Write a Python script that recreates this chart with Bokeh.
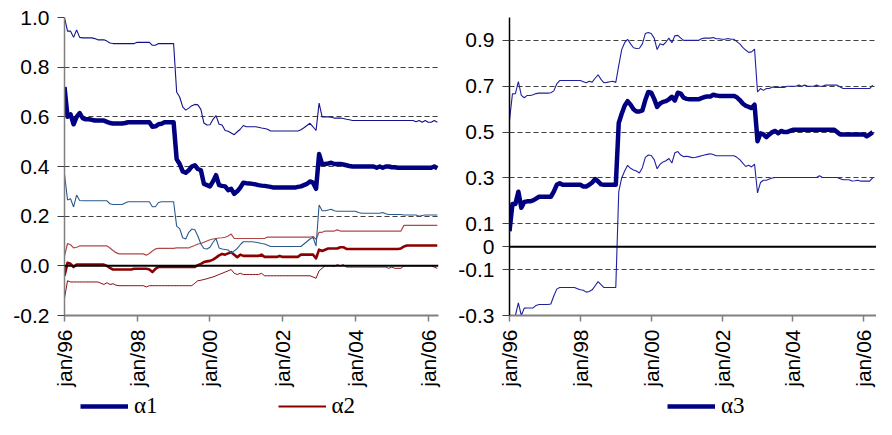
import math
from bokeh.plotting import figure
from bokeh.layouts import row, column
from bokeh.models import Span, Legend, LegendItem, FixedTicker, Range1d
from bokeh.embed import file_html
from bokeh.resources import INLINE

# ---------------- data (monthly, jan/96 .. apr/06) ----------------
alpha1 = [0.72, 0.60, 0.61, 0.57, 0.60, 0.615, 0.595, 0.59, 0.59, 0.588,
          0.585, 0.585, 0.585, 0.585, 0.58, 0.575, 0.573, 0.573, 0.573, 0.573,
          0.575, 0.578, 0.578, 0.578, 0.578, 0.578, 0.578, 0.578, 0.578, 0.56,
          0.562, 0.57, 0.572, 0.578, 0.578, 0.578, 0.578, 0.43, 0.41, 0.38,
          0.375, 0.385, 0.40, 0.405, 0.39, 0.385, 0.33, 0.325, 0.32, 0.34,
          0.365, 0.325, 0.322, 0.32, 0.305, 0.31, 0.29, 0.30, 0.315, 0.335,
          0.333, 0.332, 0.33, 0.328, 0.325, 0.323, 0.322, 0.32, 0.318, 0.315,
          0.315, 0.315, 0.315, 0.315, 0.315, 0.315, 0.315, 0.318, 0.32, 0.325,
          0.33, 0.34, 0.335, 0.31, 0.45, 0.41, 0.41, 0.412, 0.415, 0.41,
          0.41, 0.41, 0.408, 0.405, 0.402, 0.40, 0.40, 0.40, 0.40, 0.40,
          0.40, 0.40, 0.40, 0.395, 0.40, 0.395, 0.40, 0.40, 0.397, 0.397,
          0.395, 0.395, 0.395, 0.395, 0.395, 0.395, 0.395, 0.395, 0.395, 0.395,
          0.395, 0.395, 0.40, 0.393]
alpha1_upper = [1.00, 0.945, 0.945, 0.92, 0.95, 0.92, 0.918, 0.918, 0.918, 0.918,
                0.915, 0.91, 0.91, 0.91, 0.905, 0.897, 0.895, 0.895, 0.895, 0.895,
                0.895, 0.895, 0.895, 0.895, 0.90, 0.90, 0.90, 0.90, 0.90, 0.888,
                0.888, 0.895, 0.895, 0.895, 0.895, 0.895, 0.895, 0.70, 0.68, 0.64,
                0.627, 0.635, 0.645, 0.65, 0.648, 0.63, 0.575, 0.567, 0.568, 0.59,
                0.605, 0.57, 0.567, 0.545, 0.542, 0.535, 0.528, 0.54, 0.55, 0.565,
                0.56, 0.56, 0.56, 0.56, 0.558, 0.555, 0.553, 0.55, 0.543, 0.543,
                0.543, 0.543, 0.543, 0.543, 0.543, 0.543, 0.543, 0.543, 0.548, 0.556,
                0.565, 0.574, 0.56, 0.545, 0.655, 0.60, 0.60, 0.60, 0.598, 0.595,
                0.595, 0.595, 0.593, 0.59, 0.588, 0.585, 0.585, 0.585, 0.585, 0.585,
                0.585, 0.585, 0.585, 0.585, 0.585, 0.585, 0.585, 0.585, 0.585, 0.585,
                0.585, 0.585, 0.585, 0.585, 0.585, 0.585, 0.58, 0.585, 0.578, 0.585,
                0.578, 0.578, 0.585, 0.578]
alpha1_lower = [0.37, 0.265, 0.27, 0.237, 0.285, 0.263, 0.262, 0.262, 0.262, 0.262,
                0.262, 0.262, 0.262, 0.262, 0.262, 0.25, 0.247, 0.247, 0.247, 0.247,
                0.253, 0.258, 0.258, 0.258, 0.258, 0.258, 0.258, 0.258, 0.258, 0.238,
                0.238, 0.255, 0.258, 0.258, 0.258, 0.258, 0.258, 0.16, 0.15, 0.113,
                0.108, 0.135, 0.148, 0.145, 0.12, 0.088, 0.07, 0.068, 0.075, 0.095,
                0.11, 0.072, 0.068, 0.066, 0.064, 0.05, 0.06, 0.07, 0.085, 0.097,
                0.097, 0.097, 0.097, 0.095, 0.093, 0.09, 0.088, 0.083, 0.078, 0.078,
                0.078, 0.078, 0.078, 0.078, 0.078, 0.078, 0.078, 0.078, 0.078, 0.088,
                0.098, 0.108, 0.115, 0.08, 0.245, 0.222, 0.222, 0.225, 0.228, 0.222,
                0.22, 0.22, 0.22, 0.22, 0.22, 0.22, 0.22, 0.215, 0.212, 0.212,
                0.212, 0.212, 0.212, 0.212, 0.212, 0.215, 0.21, 0.207, 0.207, 0.207,
                0.207, 0.207, 0.205, 0.205, 0.205, 0.205, 0.205, 0.20, 0.203, 0.205,
                0.205, 0.205, 0.205, 0.205]
alpha2 = [-0.04, 0.012, 0.008, -0.005, 0.005, 0.005, 0.005, 0.005, 0.005, 0.005,
          0.005, 0.005, 0.005, 0.005, 0.0, -0.008, -0.015, -0.015, -0.015, -0.015,
          -0.015, -0.015, -0.015, -0.012, -0.012, -0.012, -0.012, -0.012, -0.015, -0.025,
          -0.012, -0.004, -0.004, -0.004, -0.004, -0.004, -0.004, -0.004, -0.004, -0.004,
          -0.004, -0.004, -0.004, -0.004, 0.003, 0.008, 0.015, 0.018, 0.02, 0.025,
          0.033, 0.042, 0.048, 0.045, 0.05, 0.055, 0.045, 0.035, 0.045, 0.04,
          0.04, 0.04, 0.04, 0.04, 0.04, 0.045, 0.036, 0.036, 0.036, 0.036,
          0.036, 0.04, 0.036, 0.036, 0.036, 0.036, 0.036, 0.036, 0.045, 0.045,
          0.045, 0.045, 0.045, 0.03, 0.065, 0.06, 0.065, 0.07, 0.07, 0.07,
          0.07, 0.075, 0.075, 0.068, 0.068, 0.068, 0.068, 0.068, 0.068, 0.068,
          0.068, 0.068, 0.068, 0.068, 0.068, 0.068, 0.068, 0.068, 0.068, 0.068,
          0.068, 0.07, 0.078, 0.082, 0.082, 0.082, 0.082, 0.082, 0.082, 0.082,
          0.082, 0.082, 0.082, 0.082]
alpha2_upper = [0.04, 0.09, 0.085, 0.072, 0.075, 0.08, 0.08, 0.08, 0.08, 0.08,
                0.08, 0.08, 0.08, 0.08, 0.08, 0.072, 0.062, 0.053, 0.048, 0.048,
                0.048, 0.048, 0.048, 0.048, 0.048, 0.048, 0.048, 0.043, 0.05, 0.06,
                0.068, 0.07, 0.07, 0.07, 0.07, 0.07, 0.07, 0.072, 0.072, 0.072,
                0.072, 0.072, 0.078, 0.082, 0.088, 0.09, 0.095, 0.10, 0.105, 0.108,
                0.11, 0.112, 0.113, 0.115, 0.12, 0.128, 0.11, 0.11, 0.11, 0.11,
                0.11, 0.11, 0.11, 0.11, 0.11, 0.11, 0.11, 0.116, 0.116, 0.116,
                0.116, 0.116, 0.116, 0.116, 0.116, 0.116, 0.116, 0.116, 0.116, 0.116,
                0.116, 0.116, 0.118, 0.107, 0.135, 0.135, 0.14, 0.14, 0.14, 0.14,
                0.145, 0.14, 0.14, 0.14, 0.14, 0.14, 0.14, 0.14, 0.14, 0.14,
                0.14, 0.14, 0.14, 0.14, 0.14, 0.14, 0.14, 0.14, 0.14, 0.14,
                0.14, 0.14, 0.163, 0.163, 0.163, 0.163, 0.163, 0.163, 0.163, 0.163,
                0.163, 0.163, 0.163, 0.163]
alpha2_lower = [-0.13, -0.06, -0.065, -0.065, -0.065, -0.065, -0.065, -0.065, -0.065, -0.065,
                -0.065, -0.065, -0.07, -0.075, -0.068, -0.075, -0.072, -0.078, -0.08, -0.08,
                -0.08, -0.08, -0.08, -0.08, -0.08, -0.08, -0.08, -0.085, -0.08, -0.08,
                -0.08, -0.08, -0.08, -0.08, -0.08, -0.08, -0.08, -0.08, -0.08, -0.08,
                -0.08, -0.08, -0.08, -0.07, -0.06, -0.058, -0.055, -0.052, -0.048, -0.045,
                -0.04, -0.035, -0.03, -0.025, -0.02, -0.015, -0.03, -0.035, -0.03, -0.035,
                -0.035, -0.035, -0.035, -0.035, -0.035, -0.03, -0.04, -0.04, -0.04, -0.04,
                -0.04, -0.04, -0.04, -0.04, -0.04, -0.04, -0.04, -0.04, -0.04, -0.04,
                -0.04, -0.04, -0.045, -0.05, -0.02, -0.01, 0.0, 0.0, 0.0, -0.003,
                0.005, 0.0, 0.005, -0.005, -0.005, -0.005, -0.005, -0.005, -0.005, -0.005,
                -0.005, -0.005, -0.005, -0.005, -0.005, -0.005, -0.005, -0.01, -0.005, -0.01,
                -0.01, -0.01, 0.0, 0.0, 0.0, 0.0, 0.0, 0.0, 0.0, 0.0,
                0.0, 0.0, -0.005, -0.01]
alpha3 = [0.068, 0.186, 0.186, 0.24, 0.17, 0.195, 0.198, 0.198, 0.202, 0.21,
          0.218, 0.218, 0.218, 0.218, 0.218, 0.24, 0.27, 0.277, 0.27, 0.27,
          0.27, 0.27, 0.27, 0.27, 0.27, 0.263, 0.263, 0.27, 0.28, 0.295,
          0.285, 0.272, 0.27, 0.27, 0.27, 0.27, 0.27, 0.54, 0.58, 0.615,
          0.635, 0.62, 0.60, 0.59, 0.59, 0.595, 0.64, 0.675, 0.672, 0.645,
          0.61, 0.625, 0.632, 0.635, 0.643, 0.654, 0.638, 0.672, 0.668, 0.65,
          0.645, 0.643, 0.643, 0.643, 0.643, 0.648, 0.653, 0.655, 0.655, 0.663,
          0.66, 0.658, 0.658, 0.658, 0.658, 0.658, 0.658, 0.652, 0.64, 0.625,
          0.615, 0.61, 0.605, 0.62, 0.46, 0.495, 0.49, 0.478, 0.49, 0.50,
          0.505, 0.495, 0.505, 0.50, 0.50, 0.505, 0.51, 0.51, 0.51, 0.51,
          0.51, 0.51, 0.51, 0.51, 0.51, 0.51, 0.51, 0.51, 0.51, 0.51,
          0.51, 0.50, 0.49, 0.49, 0.49, 0.49, 0.49, 0.49, 0.49, 0.49,
          0.49, 0.482, 0.49, 0.50]
alpha3_upper = [0.552, 0.667, 0.668, 0.72, 0.66, 0.65, 0.66, 0.66, 0.663, 0.668,
                0.67, 0.67, 0.67, 0.67, 0.672, 0.68, 0.71, 0.725, 0.725, 0.725,
                0.725, 0.725, 0.725, 0.725, 0.725, 0.72, 0.715, 0.722, 0.718, 0.735,
                0.75, 0.73, 0.715, 0.717, 0.72, 0.722, 0.717, 0.79, 0.86, 0.89,
                0.905, 0.885, 0.868, 0.865, 0.866, 0.885, 0.93, 0.935, 0.93, 0.91,
                0.86, 0.885, 0.88, 0.893, 0.91, 0.89, 0.92, 0.922, 0.91, 0.90,
                0.90, 0.90, 0.90, 0.90, 0.90, 0.907, 0.91, 0.91, 0.91, 0.913,
                0.907, 0.907, 0.905, 0.905, 0.908, 0.905, 0.905, 0.895, 0.885, 0.87,
                0.858, 0.848, 0.85, 0.862, 0.675, 0.69, 0.682, 0.69, 0.69, 0.697,
                0.695, 0.695, 0.695, 0.695, 0.70, 0.70, 0.70, 0.70, 0.705, 0.70,
                0.705, 0.70, 0.70, 0.70, 0.705, 0.70, 0.70, 0.705, 0.705, 0.705,
                0.705, 0.705, 0.697, 0.69, 0.69, 0.69, 0.69, 0.69, 0.69, 0.69,
                0.69, 0.69, 0.69, 0.705]
alpha3_lower = [-0.30, -0.30, -0.30, -0.245, -0.30, -0.268, -0.267, -0.267, -0.267, -0.256,
                -0.252, -0.252, -0.252, -0.252, -0.25, -0.215, -0.185, -0.178, -0.178, -0.178,
                -0.178, -0.178, -0.178, -0.183, -0.188, -0.19, -0.198, -0.195, -0.188, -0.17,
                -0.152, -0.165, -0.178, -0.178, -0.178, -0.178, -0.178, 0.24, 0.30, 0.33,
                0.355, 0.342, 0.335, 0.33, 0.322, 0.345, 0.39, 0.40, 0.398, 0.38,
                0.34, 0.36, 0.37, 0.375, 0.385, 0.365, 0.41, 0.415, 0.40, 0.393,
                0.395, 0.392, 0.388, 0.39, 0.393, 0.397, 0.40, 0.403, 0.406, 0.402,
                0.397, 0.397, 0.397, 0.397, 0.397, 0.397, 0.397, 0.39, 0.38, 0.365,
                0.35, 0.355, 0.348, 0.36, 0.235, 0.28, 0.29, 0.29, 0.295, 0.30,
                0.302, 0.302, 0.302, 0.302, 0.302, 0.302, 0.302, 0.302, 0.302, 0.302,
                0.302, 0.302, 0.302, 0.302, 0.302, 0.31, 0.302, 0.302, 0.302, 0.302,
                0.302, 0.302, 0.297, 0.292, 0.292, 0.292, 0.287, 0.288, 0.29, 0.286,
                0.286, 0.286, 0.286, 0.30]

months = list(range(len(alpha1)))  # month index, 0 = jan/96

x_ticks = [0, 24, 48, 72, 96, 120]
x_tick_labels = ["jan/96", "jan/98", "jan/00", "jan/02", "jan/04", "jan/06"]
left_y_ticks = [-0.2, 0, 0.2, 0.4, 0.6, 0.8, 1]
left_y_labels = ["-0.2", "0.0", "0.2", "0.4", "0.6", "0.8", "1.0"]
right_y_ticks = [-0.3, -0.1, 0, 0.1, 0.3, 0.5, 0.7, 0.9]
right_y_labels = ["-0.3", "-0.1", "0", "0.1", "0.3", "0.5", "0.7", "0.9"]
left_legend_labels = ["α1", "α2"]
right_legend_labels = ["α3"]

TICK_FONT = "Liberation Sans"
LEG_FONT = "Liberation Serif"

C_A1 = "#000080"
C_A1_UP = "#12128A"
C_A1_LO = "#2A5A8C"
C_A2 = "#8B0000"
C_A2_UP = "#B04848"
C_A2_LO = "#8B1010"
C_A3_BAND = "#2020A0"


def overrides(ticks, labels):
    return {t: lab for t, lab in zip(ticks, labels)}


def style(p, yticks, ylabels, yaxis_color):
    p.outline_line_color = None
    p.xgrid.visible = False
    p.ygrid.grid_line_color = "#404040"
    p.ygrid.grid_line_dash = "5 3"
    p.ygrid.grid_line_width = 1
    xa = p.xaxis[0]
    xa.ticker = FixedTicker(ticks=x_ticks)
    xa.major_label_overrides = overrides(x_ticks, x_tick_labels)
    xa.major_label_orientation = math.pi / 2
    xa.axis_line_color = "#808080"
    xa.axis_line_width = 2
    xa.major_tick_line_color = "#808080"
    xa.major_tick_line_width = 1.5
    xa.major_tick_out = 6
    xa.major_tick_in = 0
    xa.minor_tick_out = 0
    xa.major_label_standoff = 8
    xa.major_label_text_font = TICK_FONT
    xa.major_label_text_font_size = "21px"
    xa.major_label_text_color = "black"
    ya = p.yaxis[0]
    ya.ticker = FixedTicker(ticks=yticks)
    ya.major_label_overrides = overrides(yticks, ylabels)
    ya.axis_line_color = yaxis_color
    ya.axis_line_width = 1.5
    ya.major_tick_line_color = "#404040"
    ya.major_tick_out = 7
    ya.major_tick_in = 0
    ya.minor_tick_out = 0
    ya.minor_tick_in = 0
    ya.major_label_standoff = 8
    ya.major_label_text_font = TICK_FONT
    ya.major_label_text_font_size = "21px"
    ya.major_label_text_color = "black"
    p.add_layout(Span(location=0, dimension="width", line_color="black", line_width=2))


def legend_fig(width, height, specs, x0, spacing):
    lf = figure(width=width, height=height, x_range=Range1d(0, 1), y_range=Range1d(0, 1),
                output_backend="svg", toolbar_location=None,
                x_axis_location=None, y_axis_location=None,
                min_border_left=0, min_border_right=0, min_border_top=0, min_border_bottom=0)
    lf.outline_line_color = None
    lf.grid.visible = False
    items = []
    for label, color, lw in specs:
        # legend key only: a single NaN point draws nothing in the frame
        r = lf.line([float("nan")], [float("nan")], line_color=color, line_width=lw)
        items.append(LegendItem(label=label, renderers=[r]))
    leg = Legend(items=items, location=(x0, 0), orientation="horizontal",
                 glyph_width=48, glyph_height=20, label_standoff=6, spacing=spacing,
                 padding=0, margin=0, border_line_color=None, background_fill_alpha=0,
                 label_text_font=LEG_FONT, label_text_font_size="23px",
                 label_text_color="black")
    lf.add_layout(leg)
    return lf


TOP_H = 393
LEFT_W = 446
RIGHT_W = 430

# ---------------- left panel ----------------
p1 = figure(width=LEFT_W, height=TOP_H, x_range=Range1d(0, 123.4), y_range=Range1d(-0.2, 1.0),
            output_backend="svg", toolbar_location=None,
            min_border_left=64, min_border_right=8, min_border_top=17,
            min_border_bottom=TOP_H - 17 - 301)
style(p1, left_y_ticks, left_y_labels, "#808080")

p1.line(months, alpha2_lower, line_color=C_A2_LO, line_width=1)
p1.line(months, alpha2_upper, line_color=C_A2_UP, line_width=1.2)
p1.line(months, alpha2, line_color=C_A2, line_width=2.6, line_join="round")
p1.line(months, alpha1_lower, line_color=C_A1_LO, line_width=1.1)
p1.line(months, alpha1_upper, line_color=C_A1_UP, line_width=1.1)
p1.line(months, alpha1, line_color=C_A1, line_width=4.5, line_join="round")

# ---------------- right panel ----------------
p2 = figure(width=RIGHT_W, height=TOP_H, x_range=Range1d(0, 124.3), y_range=Range1d(-0.3, 1.0),
            output_backend="svg", toolbar_location=None,
            min_border_left=63, min_border_right=0, min_border_top=15,
            min_border_bottom=TOP_H - 15 - 300)
style(p2, right_y_ticks, right_y_labels, "black")

p2.line(months, alpha3_upper, line_color=C_A3_BAND, line_width=1.1)
p2.line(months, alpha3_lower, line_color=C_A3_BAND, line_width=1.1)
p2.line(months, alpha3, line_color=C_A1, line_width=4.5, line_join="round")

# ---------------- legends ----------------
LEG_H = 419 - TOP_H
l1 = legend_fig(LEFT_W, LEG_H, [(left_legend_labels[0], C_A1, 4.5),
                                (left_legend_labels[1], C_A2, 2)], 80, 120)
l2 = legend_fig(RIGHT_W, LEG_H, [(right_legend_labels[0], C_A1, 4.5)], 221, 0)

layout = column(row(p1, p2), row(l1, l2))
open("out.html", "w").write(file_html(layout, INLINE))
